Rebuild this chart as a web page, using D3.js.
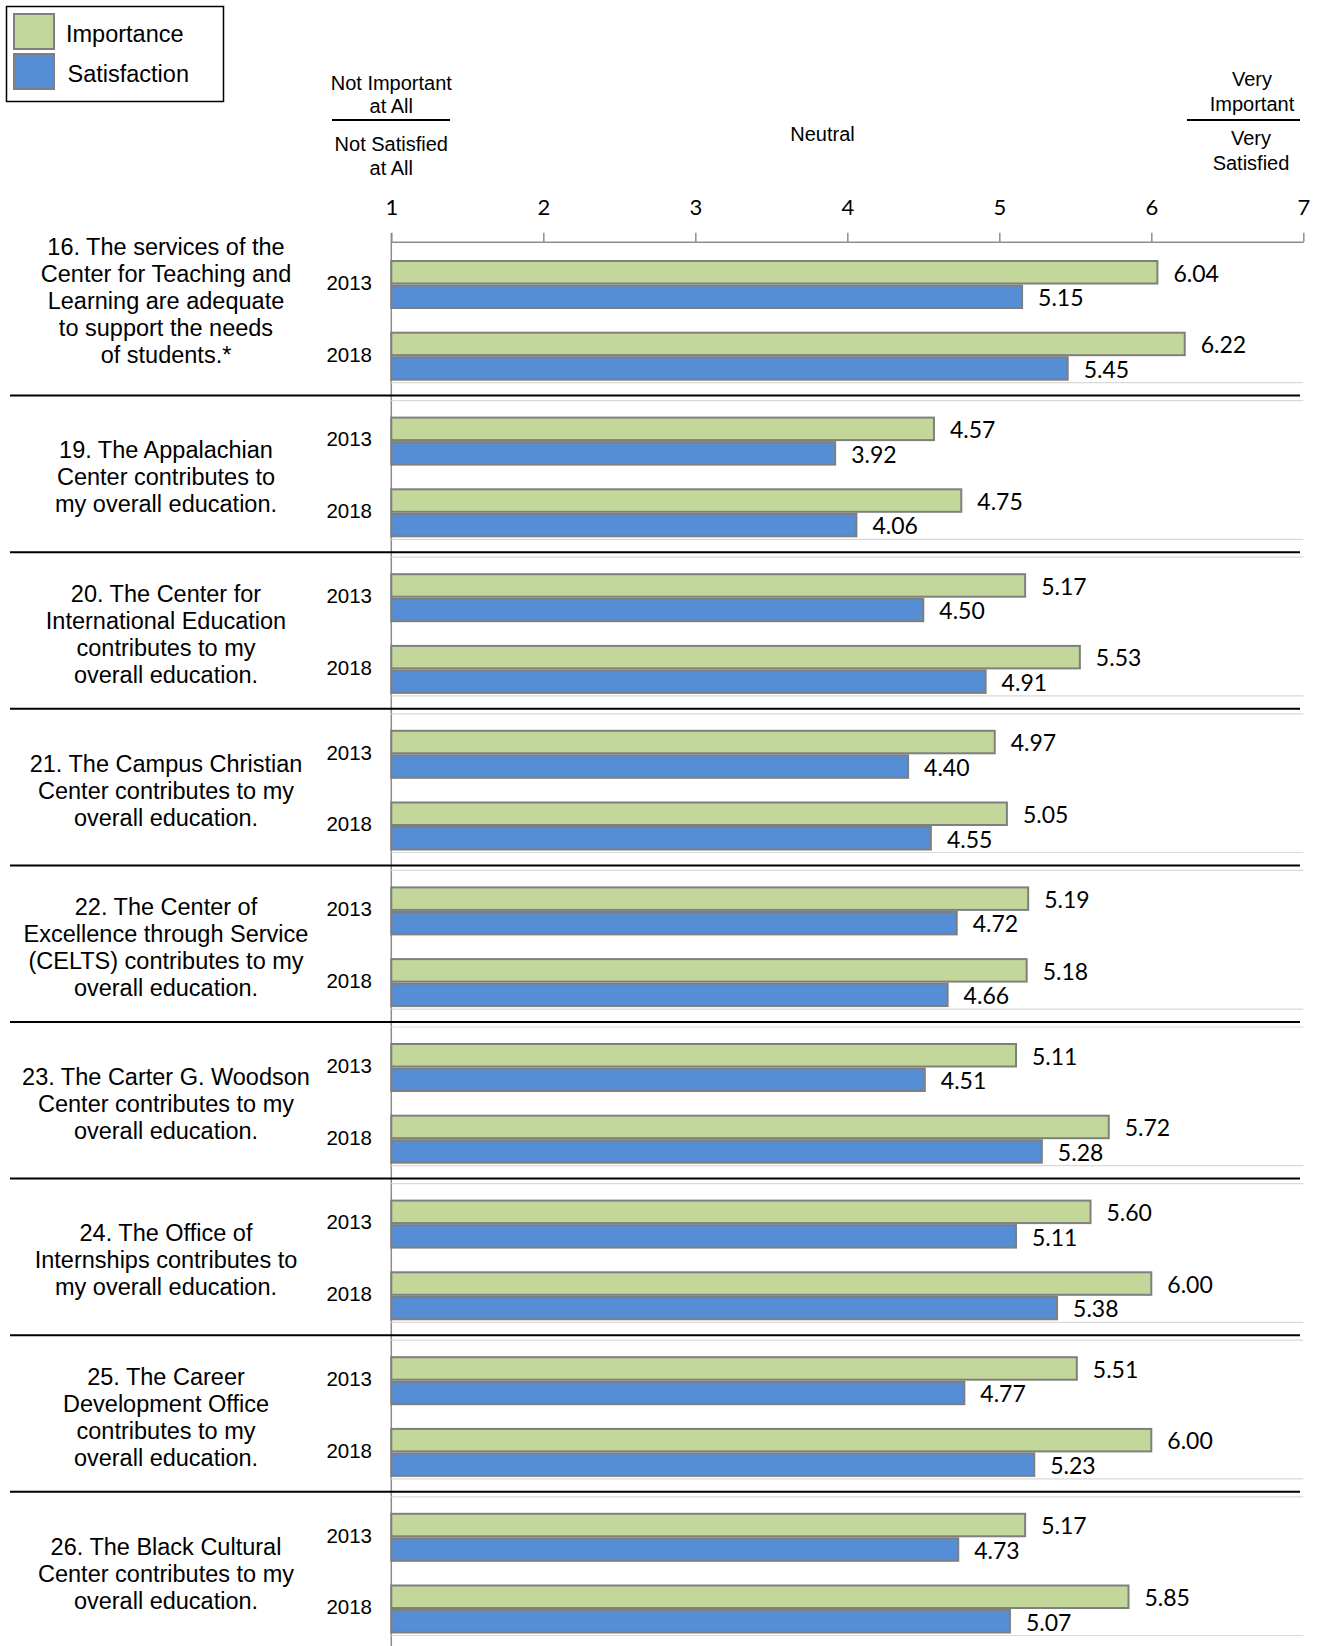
<!DOCTYPE html>
<html>
<head>
<meta charset="utf-8">
<script src="https://cdn.jsdelivr.net/npm/d3@7"></script>
<style>
  html, body { margin: 0; padding: 0; background: #fff; }
  svg { display: block; }
</style>
</head>
<body>
<svg id="chart" width="1318" height="1646"></svg>
<script>
// ---------- DATA ----------
const questionIds = ["16", "19", "20", "21", "22", "23", "24", "25", "26"];
const questionLabels = [
  ["16. The services of the", "Center for Teaching and", "Learning are adequate", "to support the needs", "of students.*"],
  ["19. The Appalachian", "Center contributes to", "my overall education."],
  ["20. The Center for", "International Education", "contributes to my", "overall education."],
  ["21. The Campus Christian", "Center contributes to my", "overall education."],
  ["22. The Center of", "Excellence through Service", "(CELTS) contributes to my", "overall education."],
  ["23. The Carter G. Woodson", "Center contributes to my", "overall education."],
  ["24. The Office of", "Internships contributes to", "my overall education."],
  ["25. The Career", "Development Office", "contributes to my", "overall education."],
  ["26. The Black Cultural", "Center contributes to my", "overall education."]
];
const years = ["2013", "2018"];
const seriesNames = ["Importance", "Satisfaction"];
const importance2013   = [6.04, 4.57, 5.17, 4.97, 5.19, 5.11, 5.60, 5.51, 5.17];
const satisfaction2013 = [5.15, 3.92, 4.50, 4.40, 4.72, 4.51, 5.11, 4.77, 4.73];
const importance2018   = [6.22, 4.75, 5.53, 5.05, 5.18, 5.72, 6.00, 6.00, 5.85];
const satisfaction2018 = [5.45, 4.06, 4.91, 4.55, 4.66, 5.28, 5.38, 5.23, 5.07];
const tickValues = [1, 2, 3, 4, 5, 6, 7];
const leftHeader = [["Not Important", "at All"], ["Not Satisfied", "at All"]];
const rightHeader = [["Very", "Important"], ["Very", "Satisfied"]];
const midHeader = "Neutral";

// ---------- BUILD ROWS ----------
const valuesBy = {
  "2013": { Importance: importance2013, Satisfaction: satisfaction2013 },
  "2018": { Importance: importance2018, Satisfaction: satisfaction2018 }
};
const rows = [];
questionIds.forEach((q, i) => {
  years.forEach(y => {
    seriesNames.forEach(s => {
      rows.push({ q, year: y, series: s, value: valuesBy[y][s][i] });
    });
  });
});

// ---------- STYLE / LAYOUT ----------
const colors = { Importance: "#C4D79B", Satisfaction: "#558ED5" };
const svg = d3.select("#chart");
const W = 1318, H = 1646;
svg.append("rect").attr("width", W).attr("height", H).attr("fill", "#fff");

const x = d3.scaleLinear().domain([1, 7]).range([391.3, 1303.3]);

const groupStep = 156.6, groupBand = 120.7, firstTop = 260;
const gy = d3.scaleBand()
  .domain(questionIds)
  .range([firstTop, firstTop + questionIds.length * groupStep - (groupStep - groupBand)])
  .paddingInner((groupStep - groupBand) / groupStep)
  .paddingOuter(0);
const yy = d3.scaleBand().domain(years).range([0, gy.bandwidth()]).paddingInner(22.7 / 71.7).paddingOuter(0);
const sy = d3.scaleBand().domain(seriesNames).range([0, yy.bandwidth()]).padding(0);

const numFont = "Lato, 'Open Sans', sans-serif";
const txtFont = "'Liberation Sans', Arial, sans-serif";

// ---------- LEGEND ----------
const legend = svg.append("g");
legend.append("rect").attr("x", 6.5).attr("y", 6.5).attr("width", 217).attr("height", 95)
  .attr("fill", "#fff").attr("stroke", "#000").attr("stroke-width", 1.5);
seriesNames.forEach((s, i) => {
  legend.append("rect").attr("x", 14).attr("y", 14 + i * 40).attr("width", 40).attr("height", 35)
    .attr("fill", colors[s]).attr("stroke", "#7f7f7f").attr("stroke-width", 2);
  legend.append("text").attr("x", 66 + i * 1.5).attr("y", 41.5 + i * 40)
    .attr("font-family", txtFont).attr("font-size", 23.5).attr("fill", "#000").text(s);
});

// ---------- HEADERS ----------
function headerBlock(cx, lines, baselines) {
  lines.forEach((t, i) => {
    svg.append("text").attr("x", cx).attr("y", baselines[i]).attr("text-anchor", "middle")
      .attr("font-family", txtFont).attr("font-size", 20).attr("fill", "#000").text(t);
  });
}
headerBlock(x(1), leftHeader[0], [90, 113]);
svg.append("line").attr("x1", 332).attr("x2", 450).attr("y1", 120).attr("y2", 120).attr("stroke", "#000").attr("stroke-width", 2);
headerBlock(x(1), leftHeader[1], [151, 175]);
headerBlock(1252, rightHeader[0], [86, 111]);
svg.append("line").attr("x1", 1187).attr("x2", 1300).attr("y1", 120).attr("y2", 120).attr("stroke", "#000").attr("stroke-width", 2);
headerBlock(1251, rightHeader[1], [145, 170]);
svg.append("text").attr("x", 822.5).attr("y", 141).attr("text-anchor", "middle")
  .attr("font-family", txtFont).attr("font-size", 20).attr("fill", "#000").text(midHeader);

// ---------- TOP AXIS ----------
const axisG = svg.append("g").attr("transform", "translate(0,241.7)")
  .call(d3.axisTop(x).tickValues(tickValues).tickFormat(d3.format("d")).tickSize(9).tickSizeOuter(0));
axisG.select(".domain").attr("stroke", "#8c8c8c").attr("stroke-width", 1.5);
axisG.selectAll(".tick line").attr("stroke", "#8c8c8c").attr("stroke-width", 1.5);
axisG.selectAll(".tick text").attr("font-family", numFont).attr("font-size", 22).attr("fill", "#000")
  .attr("y", -26.7).attr("dy", 0);

// vertical axis line
svg.append("line").attr("x1", x(1)).attr("x2", x(1)).attr("y1", 233).attr("y2", H)
  .attr("stroke", "#8c8c8c").attr("stroke-width", 1.5);

// ---------- GROUP FRAMES (faint plot-area borders) ----------
questionIds.forEach((q, i) => {
  const top = gy(q);
  if (i > 0) {
    svg.append("line").attr("x1", x(1)).attr("x2", x(7)).attr("y1", top - 16).attr("y2", top - 16)
      .attr("stroke", "#d9d9d9").attr("stroke-width", 1.2);
  }
  const bot = top + gy.bandwidth() + 2;
  svg.append("line").attr("x1", x(1)).attr("x2", x(7)).attr("y1", bot).attr("y2", bot)
    .attr("stroke", "#d9d9d9").attr("stroke-width", 1.2);
});

// ---------- SEPARATORS ----------
questionIds.slice(1).forEach(q => {
  const ySep = gy(q) - 21;
  svg.append("line").attr("x1", 10).attr("x2", 1300).attr("y1", ySep).attr("y2", ySep)
    .attr("stroke", "#000").attr("stroke-width", 2);
});

// ---------- BARS ----------
const barY = d => gy(d.q) + yy(d.year) + sy(d.series);
svg.append("g").selectAll("rect").data(rows).join("rect")
  .attr("x", x(1))
  .attr("y", d => barY(d) + 1)
  .attr("width", d => x(d.value) - x(1))
  .attr("height", sy.bandwidth() - 2)
  .attr("fill", d => colors[d.series])
  .attr("stroke", "#7f7f7f")
  .attr("stroke-width", 2);

// value labels
const fmt = d3.format(".2f");
svg.append("g").selectAll("text").data(rows).join("text")
  .attr("x", d => x(d.value) + 16)
  .attr("y", d => barY(d) + sy.bandwidth() / 2 + 1)
  .attr("dy", "0.36em")
  .attr("font-family", numFont).attr("font-size", 23).attr("fill", "#000")
  .text(d => fmt(d.value));

// year labels
questionIds.forEach(q => {
  years.forEach(y => {
    svg.append("text").attr("x", 372)
      .attr("y", gy(q) + yy(y) + yy.bandwidth() / 2 - 2)
      .attr("dy", "0.36em").attr("text-anchor", "end")
      .attr("font-family", txtFont).attr("font-size", 20.5).attr("fill", "#000").text(y);
  });
});

// question labels
questionIds.forEach((q, i) => {
  const lines = questionLabels[i];
  const lh = 27;
  const center = gy(q) + gy.bandwidth() / 2 + (i === 0 ? -20 : 0);
  const t = svg.append("text").attr("text-anchor", "middle")
    .attr("font-family", txtFont).attr("font-size", 23.5).attr("fill", "#000");
  lines.forEach((ln, k) => {
    t.append("tspan").attr("x", 166)
      .attr("y", center + (k - (lines.length - 1) / 2) * lh)
      .attr("dy", "0.36em").text(ln);
  });
});
</script>
</body>
</html>
